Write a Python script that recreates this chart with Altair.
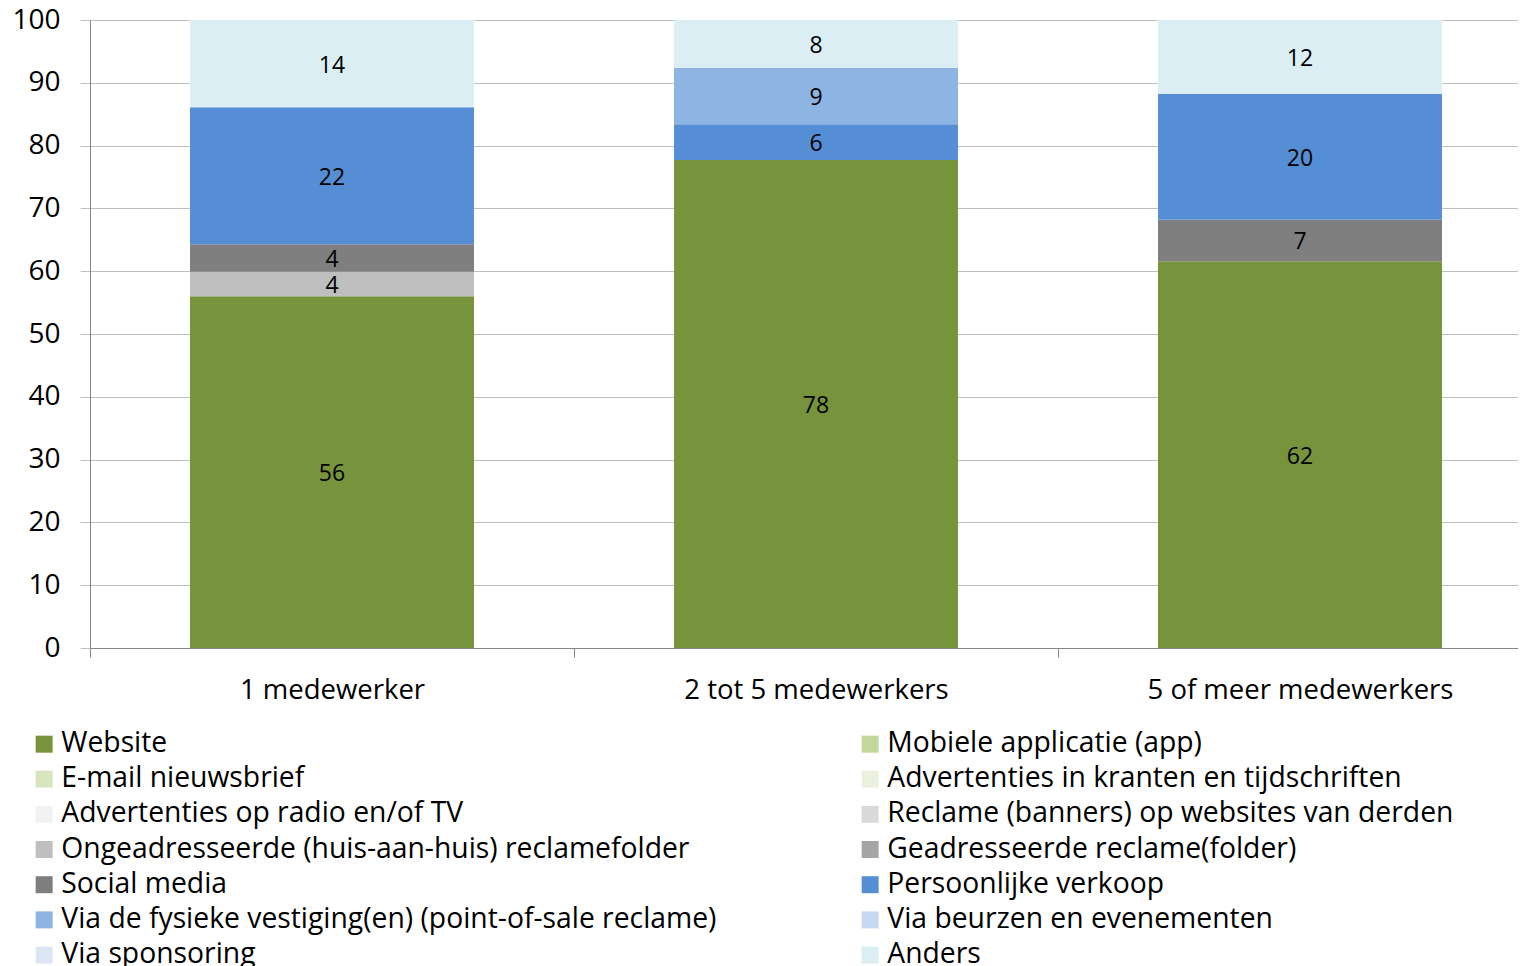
import altair as alt
import pandas as pd

categories = ["1 medewerker", "2 tot 5 medewerkers", "5 of meer medewerkers"]
series = [
    "Website",
    "Mobiele applicatie (app)",
    "E-mail nieuwsbrief",
    "Advertenties in kranten en tijdschriften",
    "Advertenties op radio en/of TV",
    "Reclame (banners) op websites van derden",
    "Ongeadresseerde (huis-aan-huis) reclamefolder",
    "Geadresseerde reclame(folder)",
    "Social media",
    "Persoonlijke verkoop",
    "Via de fysieke vestiging(en) (point-of-sale reclame)",
    "Via beurzen en evenementen",
    "Via sponsoring",
    "Anders",
]
colors = [
    "#77933C", "#C3D69B", "#D7E4BD", "#EBF1DE", "#F2F2F2", "#D9D9D9", "#BFBFBF",
    "#A6A6A6", "#7F7F7F", "#558ED5", "#8EB4E3", "#C6D9F1", "#DCE6F2", "#DBEEF4",
]
values_1 = [56.0, 0, 0, 0, 0, 0, 3.9, 0, 4.4, 21.8, 0, 0, 0, 13.9]
values_2 = [77.7, 0, 0, 0, 0, 0, 0, 0, 0, 5.7, 9.0, 0, 0, 7.6]
values_3 = [61.6, 0, 0, 0, 0, 0, 0, 0, 6.6, 20.0, 0, 0, 0, 11.8]

rows = []
for cat, vals in zip(categories, [values_1, values_2, values_3]):
    for i, (s, v) in enumerate(zip(series, vals)):
        if v > 0:
            rows.append({"cat": cat, "series": s, "idx": i, "value": v})
df = pd.DataFrame(rows)

# legend fills column by column: reorder so that it reads row by row
legend_order = series[0::2] + series[1::2]
legend_colors = colors[0::2] + colors[1::2]

FONT = "Open Sans"

x_scale = alt.Scale(paddingInner=0, paddingOuter=0, range=[0, 1452])

x_enc = alt.X(
    "cat:N", sort=categories, scale=x_scale,
    axis=alt.Axis(title=None, labelAngle=0, tickBand="extent", tickSize=9,
                  tickColor="#868686", domainColor="#868686", labelFontSize=27.5,
                  labelFont=FONT, labelColor="black", labelPadding=19, labelLimit=600,
                  grid=False),
)

base = alt.Chart(df)

bars = base.mark_bar(width=284).encode(
    x=x_enc,
    y=alt.Y("value:Q", stack="zero",
            scale=alt.Scale(domain=[0, 100], nice=False),
            axis=alt.Axis(title=None, values=list(range(0, 101, 10)), tickSize=10,
                          tickColor="#BFBFBF", domainColor="#868686", gridColor="#BFBFBF",
                          labelFontSize=28, labelFont=FONT, labelColor="black",
                          labelPadding=20)),
    color=alt.Color("series:N", scale=alt.Scale(domain=legend_order, range=legend_colors),
                    legend=alt.Legend(orient="none", legendX=-60, legendY=709.75, columns=2,
                                      columnPadding=139, title=None, symbolType="square",
                                      symbolSize=289, symbolStrokeWidth=0,
                                      labelFontSize=28.3, labelFont=FONT, labelColor="black",
                                      labelLimit=0, rowPadding=6.2, labelOffset=3, padding=0)),
    order=alt.Order("idx:Q"),
)

text = base.transform_stack(
    stack="value", groupby=["cat"], sort=[alt.SortField("idx", order="ascending")],
    as_=["y0", "y1"],
).transform_calculate(mid="(datum.y0 + datum.y1) / 2").mark_text(
    fontSize=23, font=FONT, color="black", dy=2
).encode(
    x=alt.X("cat:N", sort=categories, scale=x_scale),
    y=alt.Y("mid:Q"),
    text=alt.Text("value:Q", format=".0f"),
)

chart = alt.layer(bars, text).properties(
    width=1428, height=628,
    autosize=alt.AutoSizeParams(type="none"),
    padding={"left": 82, "top": 12, "right": 0, "bottom": 330},
).configure_view(stroke=None)

chart.save("out.html", embed_options={"renderer": "svg", "actions": False})
